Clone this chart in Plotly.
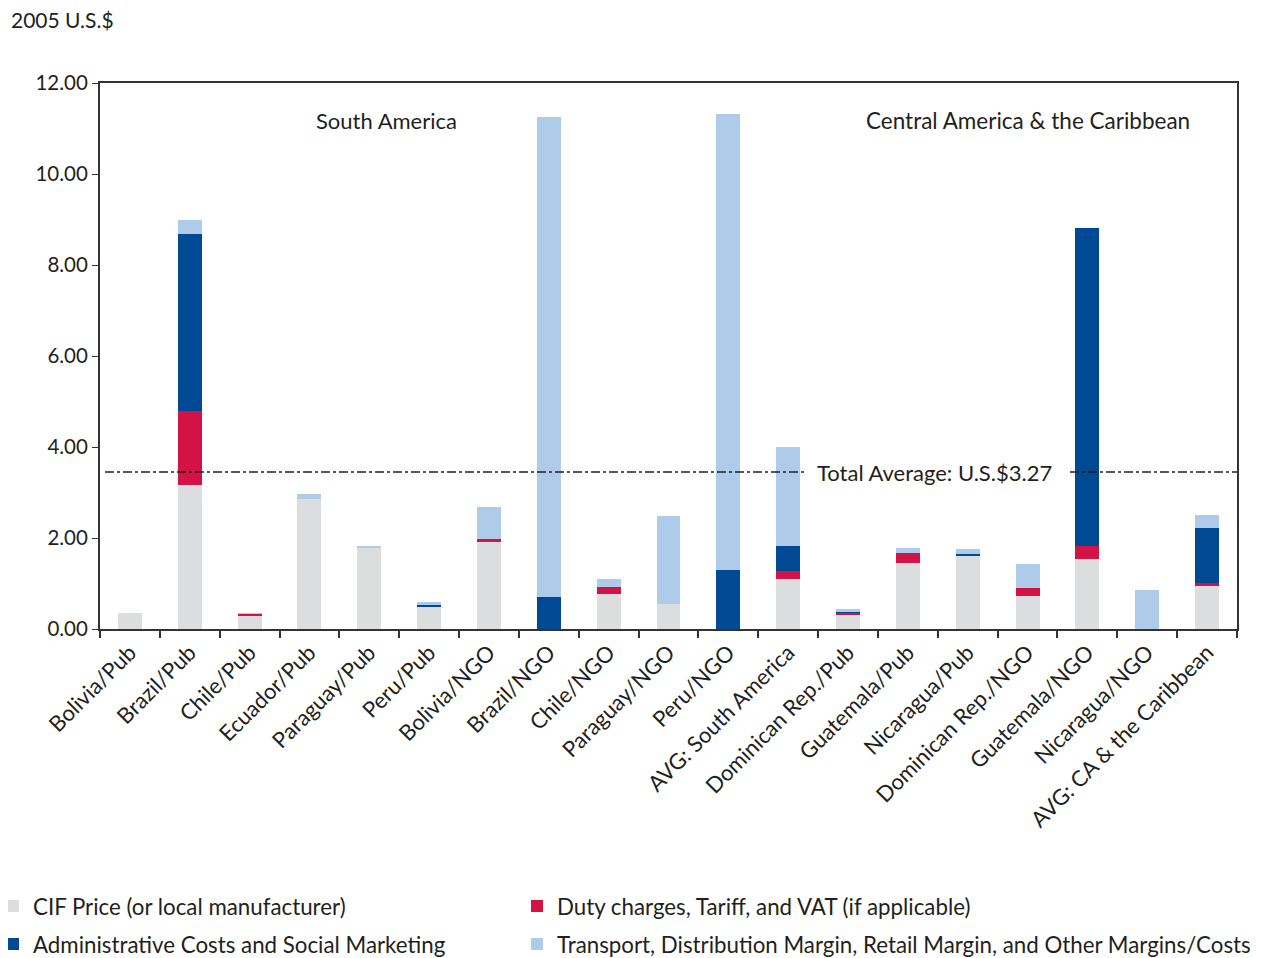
import plotly.graph_objects as go

categories = ["Bolivia/Pub", "Brazil/Pub", "Chile/Pub", "Ecuador/Pub", "Paraguay/Pub", "Peru/Pub",
              "Bolivia/NGO", "Brazil/NGO", "Chile/NGO", "Paraguay/NGO", "Peru/NGO",
              "AVG: South America", "Dominican Rep./Pub", "Guatemala/Pub", "Nicaragua/Pub",
              "Dominican Rep./NGO", "Guatemala/NGO", "Nicaragua/NGO", "AVG: CA & the Caribbean"]

cif_price = [0.35, 3.16, 0.29, 2.86, 1.79, 0.50, 1.91, 0.00, 0.77, 0.55, 0.00,
             1.10, 0.31, 1.45, 1.60, 0.73, 1.54, 0.00, 0.95]
duty_charges = [0.00, 1.63, 0.05, 0.00, 0.00, 0.00, 0.07, 0.00, 0.15, 0.00, 0.00,
                0.17, 0.05, 0.22, 0.00, 0.17, 0.28, 0.00, 0.06]
admin_costs = [0.00, 3.89, 0.00, 0.00, 0.00, 0.03, 0.00, 0.70, 0.00, 0.00, 1.30,
               0.55, 0.01, 0.00, 0.05, 0.00, 6.99, 0.00, 1.21]
transport_margins = [0.00, 0.31, 0.01, 0.11, 0.02, 0.06, 0.70, 10.55, 0.18, 1.93, 10.02,
                     2.18, 0.07, 0.11, 0.11, 0.53, 0.00, 0.86, 0.29]

series_names = ["CIF Price (or local manufacturer)",
                "Duty charges, Tariff, and VAT (if applicable)",
                "Administrative Costs and Social Marketing",
                "Transport, Distribution Margin, Retail Margin, and Other Margins/Costs"]
series_values = [cif_price, duty_charges, admin_costs, transport_margins]
series_colors = ["#DCDDDF", "#D31245", "#004A93", "#AFCBEA"]

average_line_value = 3.45
average_label = "Total Average: U.S.$3.27"
y_ticks = [0, 2, 4, 6, 8, 10, 12]

FONT = "Lato"
TXT = "#231F20"
PW = 1137.0
PH = 546.0
# screen coords of plot area in the photographed page (body has an 8px margin)
PL, PT = 100.0, 83.0


def px(xs):
    return (xs - PL) / PW


def py(ys):
    return (PT + PH - ys) / PH


legend_ids = ["legend", "legend2", "legend3", "legend4"]
legend_pos = [(-7, 906), (517, 906), (-7, 944), (517, 944)]  # screen x of item start, text centre y

fig = go.Figure()
for name, vals, col, lid in zip(series_names, series_values, series_colors, legend_ids):
    fig.add_trace(go.Bar(x=categories, y=vals, name=name, legend=lid,
                         marker=dict(color=col, line=dict(width=0))))

legend_layouts = {}
for lid, (lx, ly) in zip(legend_ids, legend_pos):
    legend_layouts[lid] = dict(x=px(lx), xanchor="left", y=py(ly), yanchor="middle",
                               font=dict(size=22.3, color=TXT), bgcolor="rgba(0,0,0,0)",
                               orientation="h")

fig.update_layout(
    barmode="stack",
    bargap=0.6,
    width=1261, height=958,
    margin=dict(l=92, r=32, t=75, b=337, autoexpand=False),
    paper_bgcolor="white", plot_bgcolor="white",
    font=dict(family=FONT, size=22, color=TXT),
    showlegend=True,
    xaxis=dict(showline=True, linecolor="#333333", linewidth=2, mirror=True,
               ticks="outside", tickson="boundaries", ticklen=7, tickcolor="#333333",
               tickwidth=1.5, tickangle=-45, automargin=False,
               tickfont=dict(size=22, color=TXT)),
    yaxis=dict(range=[0, 12], tickvals=y_ticks, tickformat=".2f",
               showline=True, linecolor="#333333", linewidth=2, mirror=True,
               ticks="outside", ticklen=6, tickcolor="#333333", showgrid=False,
               zeroline=False, automargin=False, tickfont=dict(size=20.5, color=TXT)),
    **legend_layouts,
)

dash_style = dict(color="#231F20", width=1.4, dash="dashdot")
fig.add_shape(type="line", xref="paper", yref="y", x0=px(105), x1=px(806),
              y0=average_line_value, y1=average_line_value, line=dash_style)
fig.add_shape(type="line", xref="paper", yref="y", x0=px(1070), x1=1.0,
              y0=average_line_value, y1=average_line_value, line=dash_style)

fig.add_annotation(text=average_label, xref="paper", yref="y", x=px(934), y=average_line_value,
                   showarrow=False, font=dict(size=22, color=TXT), xanchor="center", yanchor="middle")
fig.add_annotation(text="South America", xref="paper", yref="paper", x=px(386), y=py(120),
                   showarrow=False, font=dict(size=22, color=TXT), xanchor="center", yanchor="middle")
fig.add_annotation(text="Central America & the Caribbean", xref="paper", yref="paper",
                   x=px(1028), y=py(120),
                   showarrow=False, font=dict(size=22.5, color=TXT), xanchor="center", yanchor="middle")
fig.add_annotation(text="2005 U.S.$", xref="paper", yref="paper", x=px(9), y=py(20),
                   showarrow=False, font=dict(size=21, color=TXT), xanchor="left", yanchor="middle")

fig.write_html("out.html")
